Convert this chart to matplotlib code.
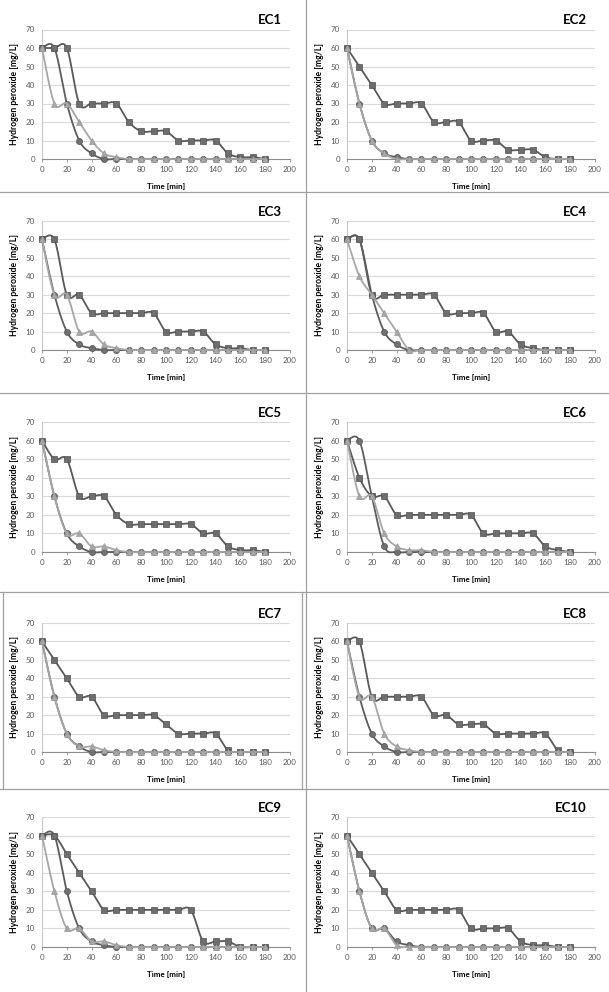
import numpy as np
import matplotlib
matplotlib.use("Agg")
import matplotlib.pyplot as plt
from matplotlib.lines import Line2D

plt.rcParams['font.family'] = ['Lato', 'DejaVu Sans']

time = [0, 10, 20, 30, 40, 50, 60, 70, 80, 90, 100, 110, 120, 130, 140, 150, 160, 170, 180]
titles = ["EC1", "EC2", "EC3", "EC4", "EC5", "EC6", "EC7", "EC8", "EC9", "EC10"]

sq_EC1 = [60, 60, 60, 30, 30, 30, 30, 20, 15, 15, 15, 10, 10, 10, 10, 3, 1, 1, 0]
ci_EC1 = [60, 60, 30, 10, 3, 0, 0, 0, 0, 0, 0, 0, 0, 0, 0, 0, 0, 0, 0]
tr_EC1 = [60, 30, 30, 20, 10, 3, 1, 0, 0, 0, 0, 0, 0, 0, 0, 0, 0, 0, 0]

sq_EC2 = [60, 50, 40, 30, 30, 30, 30, 20, 20, 20, 10, 10, 10, 5, 5, 5, 1, 0, 0]
ci_EC2 = [60, 30, 10, 3, 1, 0, 0, 0, 0, 0, 0, 0, 0, 0, 0, 0, 0, 0, 0]
tr_EC2 = [60, 30, 10, 3, 0, 0, 0, 0, 0, 0, 0, 0, 0, 0, 0, 0, 0, 0, 0]

sq_EC3 = [60, 60, 30, 30, 20, 20, 20, 20, 20, 20, 10, 10, 10, 10, 3, 1, 1, 0, 0]
ci_EC3 = [60, 30, 10, 3, 1, 0, 0, 0, 0, 0, 0, 0, 0, 0, 0, 0, 0, 0, 0]
tr_EC3 = [60, 30, 30, 10, 10, 3, 1, 0, 0, 0, 0, 0, 0, 0, 0, 0, 0, 0, 0]

sq_EC4 = [60, 60, 30, 30, 30, 30, 30, 30, 20, 20, 20, 20, 10, 10, 3, 1, 0, 0, 0]
ci_EC4 = [60, 60, 30, 10, 3, 0, 0, 0, 0, 0, 0, 0, 0, 0, 0, 0, 0, 0, 0]
tr_EC4 = [60, 40, 30, 20, 10, 0, 0, 0, 0, 0, 0, 0, 0, 0, 0, 0, 0, 0, 0]

sq_EC5 = [60, 50, 50, 30, 30, 30, 20, 15, 15, 15, 15, 15, 15, 10, 10, 3, 1, 1, 0]
ci_EC5 = [60, 30, 10, 3, 0, 0, 0, 0, 0, 0, 0, 0, 0, 0, 0, 0, 0, 0, 0]
tr_EC5 = [60, 30, 10, 10, 3, 3, 1, 0, 0, 0, 0, 0, 0, 0, 0, 0, 0, 0, 0]

sq_EC6 = [60, 40, 30, 30, 20, 20, 20, 20, 20, 20, 20, 10, 10, 10, 10, 10, 3, 1, 0]
ci_EC6 = [60, 60, 30, 3, 0, 0, 0, 0, 0, 0, 0, 0, 0, 0, 0, 0, 0, 0, 0]
tr_EC6 = [60, 30, 30, 10, 3, 1, 1, 0, 0, 0, 0, 0, 0, 0, 0, 0, 0, 0, 0]

sq_EC7 = [60, 50, 40, 30, 30, 20, 20, 20, 20, 20, 15, 10, 10, 10, 10, 1, 0, 0, 0]
ci_EC7 = [60, 30, 10, 3, 0, 0, 0, 0, 0, 0, 0, 0, 0, 0, 0, 0, 0, 0, 0]
tr_EC7 = [60, 30, 10, 3, 3, 1, 0, 0, 0, 0, 0, 0, 0, 0, 0, 0, 0, 0, 0]

sq_EC8 = [60, 60, 30, 30, 30, 30, 30, 20, 20, 15, 15, 15, 10, 10, 10, 10, 10, 1, 0]
ci_EC8 = [60, 30, 10, 3, 0, 0, 0, 0, 0, 0, 0, 0, 0, 0, 0, 0, 0, 0, 0]
tr_EC8 = [60, 30, 30, 10, 3, 1, 0, 0, 0, 0, 0, 0, 0, 0, 0, 0, 0, 0, 0]

sq_EC9 = [60, 60, 50, 40, 30, 20, 20, 20, 20, 20, 20, 20, 20, 3, 3, 3, 0, 0, 0]
ci_EC9 = [60, 60, 30, 10, 3, 1, 0, 0, 0, 0, 0, 0, 0, 0, 0, 0, 0, 0, 0]
tr_EC9 = [60, 30, 10, 10, 3, 3, 1, 0, 0, 0, 0, 0, 0, 0, 0, 0, 0, 0, 0]

sq_EC10 = [60, 50, 40, 30, 20, 20, 20, 20, 20, 20, 10, 10, 10, 10, 3, 1, 1, 0, 0]
ci_EC10 = [60, 30, 10, 10, 3, 1, 0, 0, 0, 0, 0, 0, 0, 0, 0, 0, 0, 0, 0]
tr_EC10 = [60, 30, 10, 10, 1, 0, 0, 0, 0, 0, 0, 0, 0, 0, 0, 0, 0, 0, 0]

squares = [sq_EC1, sq_EC2, sq_EC3, sq_EC4, sq_EC5, sq_EC6, sq_EC7, sq_EC8, sq_EC9, sq_EC10]
circles = [ci_EC1, ci_EC2, ci_EC3, ci_EC4, ci_EC5, ci_EC6, ci_EC7, ci_EC8, ci_EC9, ci_EC10]
triangles = [tr_EC1, tr_EC2, tr_EC3, tr_EC4, tr_EC5, tr_EC6, tr_EC7, tr_EC8, tr_EC9, tr_EC10]


def smooth(x, y, n=16):
    """Excel-like smoothed line (cardinal Bezier through points)."""
    x = np.asarray(x, float)
    y = np.asarray(y, float)
    P = np.column_stack([x, y])
    Pext = np.vstack([P[0], P, P[-1]])
    out = []
    t = np.linspace(0, 1, n)[:, None]
    for i in range(len(P) - 1):
        p0, p1, p2, p3 = Pext[i], Pext[i + 1], Pext[i + 2], Pext[i + 3]
        c1 = p1 + (p2 - p0) / 6.0
        c2 = p2 - (p3 - p1) / 6.0
        seg = ((1 - t) ** 3) * p1 + 3 * ((1 - t) ** 2) * t * c1 + 3 * (1 - t) * t ** 2 * c2 + t ** 3 * p2
        out.append(seg if i == 0 else seg[1:])
    S = np.vstack(out)
    return S[:, 0], S[:, 1]


W, H = 609, 992
fig = plt.figure(figsize=(W / 100, H / 100), dpi=100)
fig.patch.set_facecolor('white')

col_x = [(42, 290), (347, 595)]
row_y = [(159, 29.5), (350, 221), (552, 422), (752, 623), (947, 817)]

tick_col = '#595959'
for k in range(10):
    r, c = divmod(k, 2)
    x0, x1 = col_x[c]
    y0, y1 = row_y[r]
    ax = fig.add_axes([x0 / W, 1 - y0 / H, (x1 - x0) / W, (y0 - y1) / H])
    ax.set_xlim(0, 200)
    ax.set_ylim(0, 70)
    ax.set_yticks(range(0, 71, 10))
    ax.set_xticks(range(0, 201, 20))
    ax.grid(axis='y', color='#d9d9d9', lw=0.8, zorder=0)
    ax.set_axisbelow(True)
    for s in ['top', 'right']:
        ax.spines[s].set_visible(False)
    ax.spines['left'].set_color('#c8c8c8')
    ax.spines['bottom'].set_color('#8c8c8c')
    ax.spines['left'].set_linewidth(0.8)
    ax.spines['bottom'].set_linewidth(0.8)
    ax.tick_params(axis='y', length=0, labelsize=5.8, labelcolor=tick_col, pad=5)
    ax.tick_params(axis='x', length=2, width=0.6, color='#8c8c8c', labelsize=5.8,
                   labelcolor=tick_col, pad=3)

    xs, ys = smooth(time, squares[k])
    ax.plot(xs, ys, color='#585858', lw=1.3, zorder=3, clip_on=False)
    ax.plot(time, squares[k], ls='none', marker='s', ms=4.8, mfc='#6e6e6e',
            mec='#505050', mew=0.5, zorder=4, clip_on=False)
    xs, ys = smooth(time, circles[k])
    ax.plot(xs, ys, color='#5c5c5c', lw=1.3, zorder=5, clip_on=False)
    ax.plot(time, circles[k], ls='none', marker='o', ms=4.4, mfc='#707070',
            mec='#555555', mew=0.5, zorder=6, clip_on=False)
    xs, ys = smooth(time, triangles[k])
    ax.plot(xs, ys, color='#a6a6a6', lw=1.3, zorder=7, clip_on=False)
    ax.plot(time, triangles[k], ls='none', marker='^', ms=4.6, mfc='#a8a8a8',
            mec='#9a9a9a', mew=0.5, zorder=8, clip_on=False)

    ax.set_xlabel('Time [min]', fontsize=5.8, fontweight='bold', labelpad=7)
    ax.set_ylabel('Hydrogen peroxide [mg/L]', fontsize=6.2, fontweight='bold', labelpad=5)
    fig.text((x1 - 8) / W, 1 - (y1 - 9) / H, titles[k], ha='right', va='center',
             fontsize=9.5, fontweight='bold', color='black')

# panel borders
bc = '#a0a0a0'
def hline(y, xa, xb):
    fig.add_artist(Line2D([xa / W, xb / W], [1 - y / H, 1 - y / H], color=bc, lw=0.9))
def vline(x, ya, yb):
    fig.add_artist(Line2D([x / W, x / W], [1 - ya / H, 1 - yb / H], color=bc, lw=0.9))

hline(192, 0, W)
hline(393, 0, W)
hline(592, 0, W)
hline(789, 0, W)
vline(306, 0, H)
vline(3, 592, 789)
vline(302, 592, 789)

fig.savefig('out.png', dpi=100, facecolor='white')
